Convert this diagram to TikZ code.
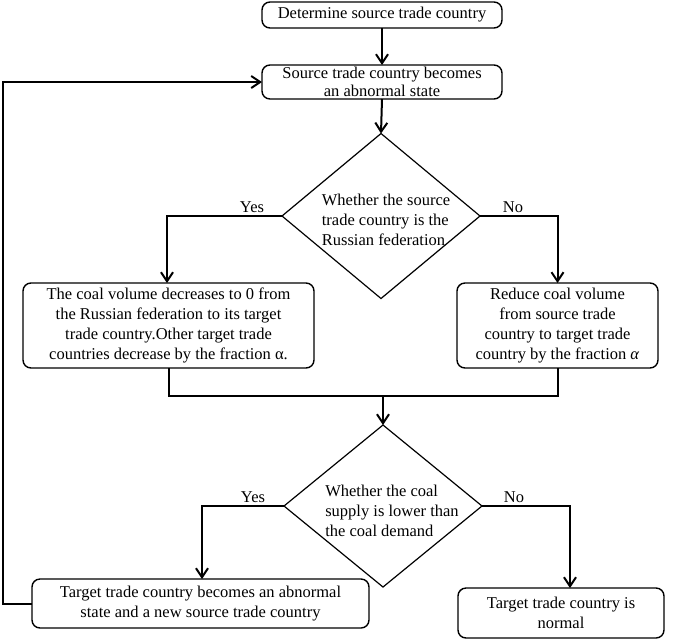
\documentclass[tikz,border=0pt]{standalone}
\usepackage{fontspec}
\setmainfont{Liberation Serif}
\usetikzlibrary{shapes.geometric,arrows.meta}
\begin{document}
\begin{tikzpicture}[x=1pt,y=-1pt,
  font=\fontsize{16.5}{20}\selectfont,
  box/.style={draw, line width=1.4pt, rounded corners=8pt, align=center, inner sep=0pt, outer sep=0pt},
  dia/.style={draw, diamond, line width=1.2pt, inner sep=0pt, outer sep=0pt, minimum width=198pt, minimum height=165pt},
  dtext/.style={align=left, inner sep=0pt},
  conn/.style={line width=2pt},
  arr/.style={conn, -{Straight Barb[length=9pt,width=12pt,line width=2pt]}},
  lab/.style={inner sep=0pt}
]
\useasboundingbox (0,0) rectangle (685,641);

\node[box, minimum width=240pt, minimum height=26pt] (b1) at (382,15) {Determine source trade country};
\node[box, minimum width=240pt, minimum height=34pt, font=\fontsize{16.5}{18}\selectfont] (b2) at (382,82) {Source trade country becomes\\an abnormal state};

\node[dia] (d1) at (381,216) {};
\node[dtext] (d1t) at (386,219.5) {Whether the source\\trade country is the\\Russian federation};

\node[box, minimum width=291pt, minimum height=85pt] (b3) at (168.5,325.5) {The coal volume decreases to 0 from\\the Russian federation to its target\\trade country.Other target trade\\countries decrease by the fraction α.};
\node[box, minimum width=201pt, minimum height=85pt] (b4) at (557.5,325.5) {Reduce coal volume\\from source trade\\country to target trade\\country by the fraction \textit{α}};

\coordinate (m) at (383,396);

\node[dia, minimum width=198pt, minimum height=162pt] (d2) at (383,506) {};
\node[dtext] (d2t) at (392,511) {Whether the coal\\supply is lower than\\the coal demand};

\node[box, minimum width=337pt, minimum height=49pt] (b5) at (200.5,603.5) {Target trade country becomes an abnormal\\state and a new source trade country};
\node[box, minimum width=206pt, minimum height=50pt] (b6) at (561,613) {Target trade country is\\normal};

\node[lab] (y1) at (252,207) {Yes};
\node[lab] (n1) at (513,207) {No};
\node[lab] (y2) at (253,497) {Yes};
\node[lab] (n2) at (514,497) {No};

\draw[arr] (b1.south) -- (b2.north);
\draw[arr] (b2.south) -- (d1.north);
\draw[arr] (d1.west) -| ([xshift=-1.5pt]b3.north);
\draw[arr] (d1.east) -| (b4.north);
\draw[conn] (b3.south) |- (m) -| (b4.south);
\draw[arr] (m) -- (d2.north);
\draw[arr] (d2.west) -| ([xshift=1.5pt]b5.north);
\draw[arr] (d2.east) -| ([xshift=9pt]b6.north);
\draw[arr] (b5.west) -- ++(-29,0) |- (b2.west);
\end{tikzpicture}
\end{document}
